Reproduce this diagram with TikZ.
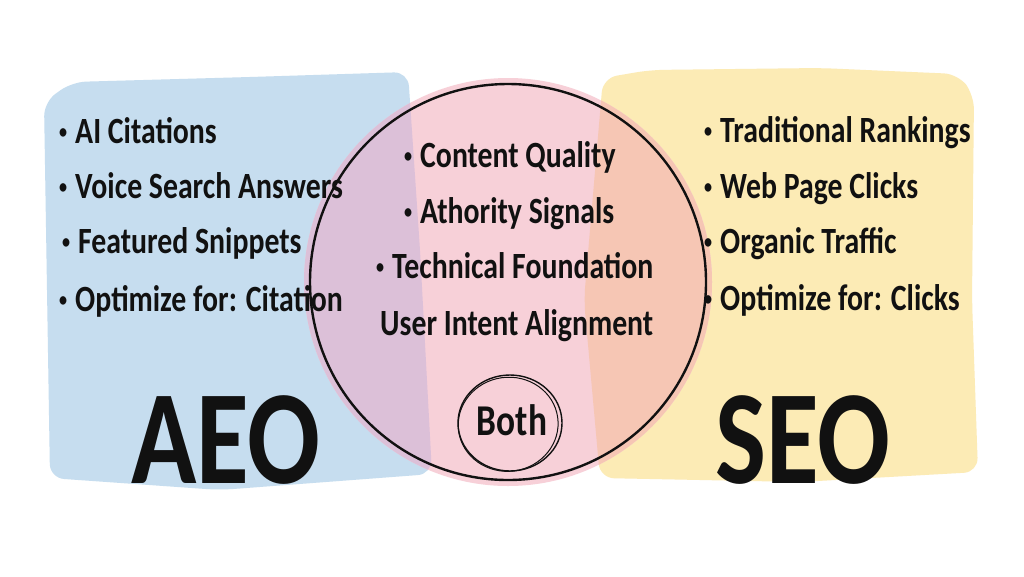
\documentclass[tikz,border=0pt]{standalone}
\usepackage{fontspec}
\newfontfamily\handb[FakeStretch=0.805,BoldFont={Carlito Bold}]{Carlito}
\definecolor{pblue}{HTML}{C6DDEF}
\definecolor{pyellow}{HTML}{FCEBB5}
\definecolor{ppink}{HTML}{F7D0D8}
\definecolor{ppurple}{HTML}{DCC0D8}
\definecolor{psalmon}{HTML}{F6C6B4}
\definecolor{ink}{HTML}{111111}
\newcommand\bul{{\fontsize{20}{20}\selectfont\raisebox{4.5pt}{•}}\hspace{8pt}}
\tikzset{
  item/.style={anchor=base west, inner sep=0pt, text=ink, font=\handb\bfseries\fontsize{37}{37}\selectfont},
  big/.style={anchor=base, inner sep=0pt, text=ink, font=\handb\bfseries\fontsize{134}{134}\selectfont},
}
\begin{document}
\begin{tikzpicture}[x=1pt,y=-1pt]
\useasboundingbox (0,0) rectangle (1024,576);
\fill[white] (0,0) rectangle (1024,576);
% paint patches
\def\blueshape{(44,102) -- (72,82) -- (250,77) -- (408,72) -- (420,250) -- (432,474) -- (220,490) -- (50,478) -- cycle}
\def\yellowshape{(603,78) -- (650,70) -- (820,68) -- (958,74) -- (974,95) -- (972,300) -- (978,472) -- (800,482) -- (600,478) -- (584,300) -- cycle}
\fill[pblue, rounded corners=14pt] \blueshape;
\fill[pyellow, rounded corners=14pt] \yellowshape;
\coordinate (c) at (508,282);
\fill[ppink] (c) circle [radius=204pt];
\begin{scope}
  \clip (c) circle [radius=204pt];
  \fill[ppurple, rounded corners=14pt] \blueshape;
  \fill[psalmon, rounded corners=14pt] \yellowshape;
\end{scope}
\node[draw=ink, line width=2.4pt, circle, minimum size=396pt, inner sep=0pt] (main) at (c) {};
% left list
\node[item] (l1) at (59,143) {\bul AI Citations};
\node[item] (l2) at (59,198) {\bul Voice Search Answers};
\node[item] (l3) at (62,253) {\bul Featured Snippets};
\node[item] (l4) at (59,311) {\bul Optimize for: Citation};
% middle list
\node[item] (m1) at (404,167) {\bul Content Quality};
\node[item] (m2) at (404,223) {\bul Athority Signals};
\node[item] (m3) at (376,278) {\bul Technical Foundation};
\node[item] (m4) at (380,335) {User Intent Alignment};
% right list
\node[item] (r1) at (704,142) {\bul Traditional Rankings};
\node[item] (r2) at (704,198) {\bul Web Page Clicks};
\node[item] (r3) at (704,253) {\bul Organic Traffic};
\node[item] (r4) at (704,310) {\bul Optimize for: Clicks};
% titles
\node[big] (aeo) at (226,483) {AEO};
\node[big] (seo) at (803,483) {SEO};
% both
\node[anchor=base, inner sep=0pt, text=ink, font=\handb\bfseries\fontsize{44}{44}\selectfont] (both) at (512,435) {Both};
\draw[ink, line width=1.4pt] (510,423) ellipse [x radius=52pt, y radius=48pt];
\draw[ink, line width=1pt, rotate around={8:(510,423)}] (508,424) ellipse [x radius=50pt, y radius=47pt];
\end{tikzpicture}
\end{document}
